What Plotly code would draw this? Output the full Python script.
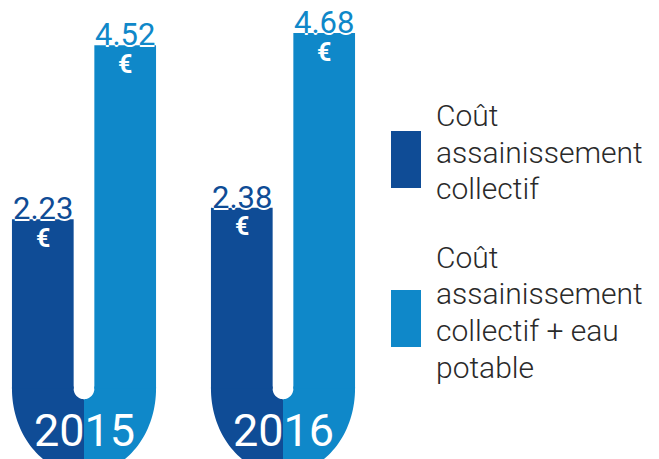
import numpy as np
import plotly.graph_objects as go

# ---- data ----
years = ["2015", "2016"]
cout_assainissement = [2.23, 2.38]
cout_total = [4.52, 4.68]
series_lines = [["Coût", "assainissement", "collectif"],
                ["Coût", "assainissement", "collectif + eau", "potable"]]

DARK = "#0f4c96"
LIGHT = "#0f88c9"
TXT = "#2a2a2a"
FONT = "Roboto"

BAR_W = 0.31
GAP = 0.104
HALF = BAR_W + GAP / 2
RY = 1.125           # depth of U bottom (y units)
NRX, NRY = GAP / 2, 0.138

OFF = 8              # page body margin
W, H = 659 - OFF, 459 - OFF
X0PX, XSTEP = 84 - OFF, 199
Y0PX, YSCALE = 388.7 - OFF, 76

pos = list(range(len(years)))

fig = go.Figure()
fig.add_trace(go.Bar(x=pos, y=cout_assainissement, width=BAR_W, offset=-HALF,
                     marker=dict(color=DARK, line=dict(width=0)), showlegend=False,
                     hoverinfo="skip"))
fig.add_trace(go.Bar(x=pos, y=cout_total, width=BAR_W, offset=GAP / 2,
                     marker=dict(color=LIGHT, line=dict(width=0)), showlegend=False,
                     hoverinfo="skip"))


def half_path(xc, side):
    pts = [(xc + side * HALF, 0.03), (xc + side * HALF, 0)]
    th = np.linspace(0, np.pi / 2, 40)
    for t in th:
        pts.append((xc + side * HALF * np.cos(t), -RY * np.sin(t)))
    pts.append((xc, -NRY))
    for t in th[::-1]:
        pts.append((xc + side * NRX * np.cos(t), -NRY * np.sin(t)))
    pts.append((xc + side * NRX, 0.03))
    return "M " + " L ".join(f"{x:.5f},{y:.5f}" for x, y in pts) + " Z"


shadow = "1.5px 0 0 white, -1.5px 0 0 white, 0 1.5px 0 white, 0 -1.5px 0 white"
shapes = []
annotations = []
for i, p in enumerate(pos):
    shapes.append(dict(type="path", xref="x", yref="y", path=half_path(p, -1),
                       fillcolor=DARK, line=dict(width=0), layer="below"))
    shapes.append(dict(type="path", xref="x", yref="y", path=half_path(p, 1),
                       fillcolor=LIGHT, line=dict(width=0), layer="below"))
    for val, cx, col in [(cout_assainissement[i], p - HALF + BAR_W / 2, DARK),
                         (cout_total[i], p + GAP / 2 + BAR_W / 2, LIGHT)]:
        annotations.append(dict(x=cx, y=val, xref="x", yref="y", text=f"{val:.2f}",
                                showarrow=False, yanchor="bottom", yshift=-10,
                                font=dict(family=FONT, size=31, color=col, shadow=shadow)))
        annotations.append(dict(x=cx, y=val, xref="x", yref="y", text="<b>€</b>",
                                showarrow=False, yanchor="middle", yshift=-19,
                                font=dict(family=FONT, size=25, color="white")))
    annotations.append(dict(x=p, y=0, xref="x", yref="y", text=years[i],
                            showarrow=False, yanchor="middle", yshift=-42,
                            font=dict(family=FONT, size=45, color="white")))

# manual legend (pixel positions in page coordinates)
LEG_FS = 30
legend_items = [(DARK, 131, 188, [125, 161.7, 198]),
                (LIGHT, 290, 347, [266.7, 303, 340, 376.7])]
for (col, y0, y1, baselines), lines in zip(legend_items, series_lines):
    shapes.append(dict(type="rect", xref="paper", yref="paper",
                       x0=(391 - OFF) / W, x1=(421 - OFF) / W,
                       y0=1 - (y1 - OFF) / H, y1=1 - (y0 - OFF) / H,
                       fillcolor=col, line=dict(width=0)))
    for txt, bl in zip(lines, baselines):
        yc = bl - OFF - 0.32 * LEG_FS
        annotations.append(dict(x=(434 - OFF) / W, y=1 - yc / H, xref="paper", yref="paper",
                                text=txt, showarrow=False, xanchor="left", yanchor="middle",
                                align="left",
                                font=dict(family=FONT, size=LEG_FS, color=TXT, weight=300)))

fig.update_layout(
    width=W, height=H,
    margin=dict(l=0, r=0, t=0, b=0),
    paper_bgcolor="white", plot_bgcolor="white",
    barmode="overlay",
    xaxis=dict(range=[-X0PX / XSTEP, (W - X0PX) / XSTEP], visible=False, fixedrange=True),
    yaxis=dict(range=[-(H - Y0PX) / YSCALE, Y0PX / YSCALE], visible=False, fixedrange=True),
    shapes=shapes, annotations=annotations, showlegend=False,
)
fig.write_html("out.html")
